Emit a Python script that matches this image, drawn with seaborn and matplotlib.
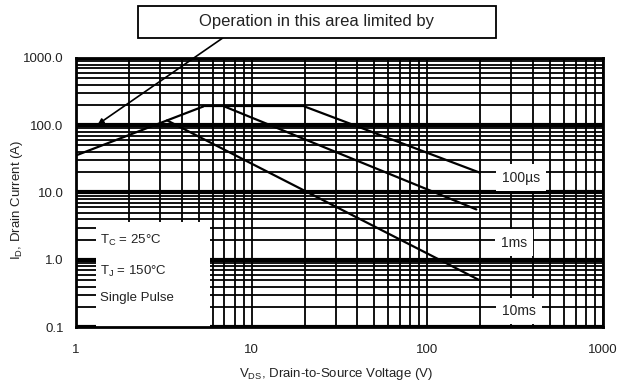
import numpy as np
import pandas as pd
import matplotlib
matplotlib.use("Agg")
import matplotlib.pyplot as plt
import matplotlib.ticker as mticker
from matplotlib.patches import Rectangle
import seaborn as sns

### Data (V in volts, I in amps) ###
rds_v = [1.0, 5.3]
rds_i = [35.6, 190.0]
limit_v = [5.3, 20.0]
limit_i = [190.0, 190.0]
us100_v = [20.0, 197.0]
us100_i = [190.0, 19.9]
ms1_v = [7.0, 190.0]
ms1_i = [190.0, 5.6]
ms10_v = [3.3, 197.0]
ms10_i = [118.0, 0.5]

x_ticks = [1, 10, 100, 1000]
x_tick_labels = ["1", "10", "100", "1000"]
y_ticks = [0.1, 1, 10, 100, 1000]
y_tick_labels = ["0.1", "1.0", "10.0", "100.0", "1000.0"]

curve_labels = ["100\u00b5s", "1ms", "10ms"]
curve_label_v = [342, 312, 333]
curve_label_i = [16.7, 1.8, 0.173]

cond_lines = ["T$_\\mathregular{C}$ = 25\u00b0C", "T$_\\mathregular{J}$ = 150\u00b0C", "Single Pulse"]

sns.set_style("white")
plt.rcParams["font.family"] = ["Liberation Sans", "DejaVu Sans"]

fig = plt.figure(figsize=(6.19, 3.83), dpi=100)
ax = fig.add_axes([0.1228, 0.1462, 0.8514, 0.7024])

segments = [
    (rds_v, rds_i),
    (limit_v, limit_i),
    (us100_v, us100_i),
    (ms1_v, ms1_i),
    (ms10_v, ms10_i),
]
for v, i in segments:
    sns.lineplot(x=v, y=i, color="black", linewidth=1.6, estimator=None,
                 ax=ax, zorder=3)

ax.set_xscale("log")
ax.set_yscale("log")
ax.set_xlim(1, 1000)
ax.set_ylim(0.1, 1000)

ax.set_xticks(x_ticks)
ax.set_xticklabels(x_tick_labels)
ax.set_yticks(y_ticks)
ax.set_yticklabels(y_tick_labels)
ax.xaxis.set_minor_locator(mticker.LogLocator(base=10, subs=np.arange(2, 10)))
ax.yaxis.set_minor_locator(mticker.LogLocator(base=10, subs=np.arange(2, 10)))
ax.xaxis.set_minor_formatter(mticker.NullFormatter())
ax.yaxis.set_minor_formatter(mticker.NullFormatter())

ax.tick_params(which="both", direction="in", color="black", width=1.2)
ax.tick_params(which="major", length=5, labelsize=9.5, labelcolor="#222222")
ax.tick_params(which="minor", length=4)
ax.tick_params(axis="x", which="major", pad=12)
ax.tick_params(axis="y", which="major", pad=9)

ax.set_axisbelow(True)
ax.xaxis.grid(True, which="both", color="black", linewidth=1.3)
ax.yaxis.grid(True, which="minor", color="black", linewidth=1.3)
ax.yaxis.grid(True, which="major", color="black", linewidth=3.0)

for s in ax.spines.values():
    s.set_color("black")
    s.set_linewidth(2.0)

ax.set_xlabel("V$_\\mathregular{DS}$, Drain-to-Source Voltage (V)", fontsize=9.5,
              color="#222222")
ax.set_ylabel("I$_\\mathregular{D}$, Drain Current (A)", fontsize=9.5, color="#222222")
ax.xaxis.set_label_coords(0.493, -0.145)
ax.yaxis.set_label_coords(-0.097, 0.472)

# pulse-length labels sitting in white boxes over the grid
for lab, v, i in zip(curve_labels, curve_label_v, curve_label_i):
    ax.text(v, i, lab, fontsize=10, ha="center", va="center", color="#222222",
            zorder=4,
            bbox=dict(boxstyle="square,pad=0.45", facecolor="white", edgecolor="none"))

# test conditions block
ax.add_patch(Rectangle((0.038, 0.0), 0.216, 0.39, transform=ax.transAxes,
                       facecolor="white", edgecolor="none", zorder=1.5))
for txt, yy in zip(cond_lines, [0.323, 0.208, 0.108]):
    ax.text(0.046, yy, txt, transform=ax.transAxes, fontsize=9.5, ha="left",
            va="center", color="#222222", zorder=4)

# header box with arrow
fig.patches.append(Rectangle((138 / 619, 1 - 38 / 383), 358 / 619, 32 / 383,
                             transform=fig.transFigure, facecolor="white",
                             edgecolor="black", linewidth=1.3))
fig.text(0.512, 0.9426, "Operation in this area limited by", fontsize=12,
         ha="center", va="center", color="#222222")
ax.annotate("", xy=(1.33, 103), xycoords="data",
            xytext=(0.360, 0.901), textcoords="figure fraction",
            arrowprops=dict(arrowstyle="-|>", color="black", lw=1.2,
                            mutation_scale=8, shrinkA=0, shrinkB=0),
            annotation_clip=False, zorder=5)

fig.savefig("out.png", dpi=100)
